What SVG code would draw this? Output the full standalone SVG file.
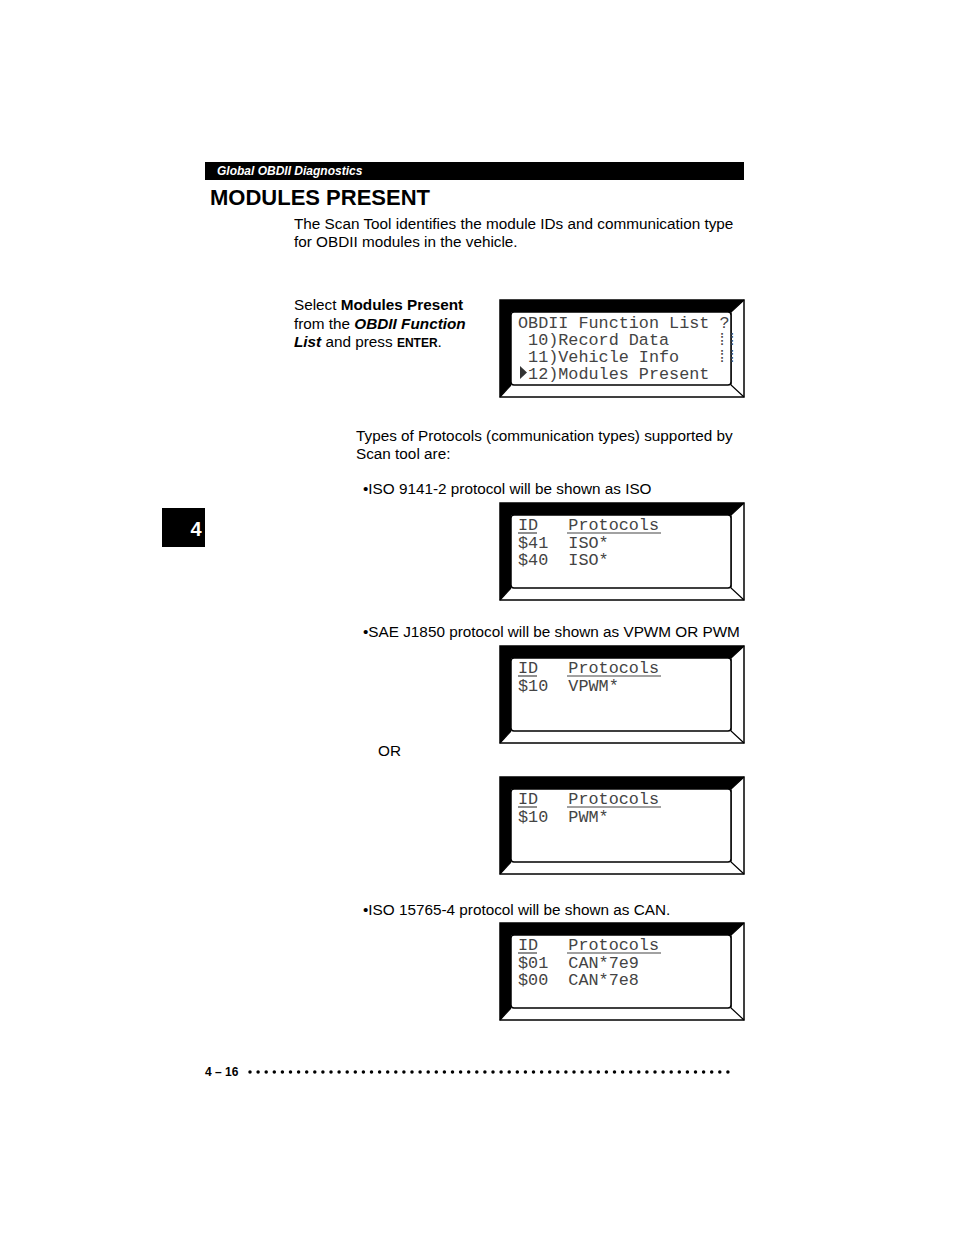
<svg xmlns="http://www.w3.org/2000/svg" xmlns:xlink="http://www.w3.org/1999/xlink" width="954" height="1235" viewBox="0 0 954 1235">
<style>
.t{font-family:"Liberation Sans",Arial,sans-serif;font-size:15.3px;fill:#000}
.b{font-weight:bold}
.lcd{font-family:"Liberation Mono","DejaVu Sans Mono",monospace;font-size:16.8px;fill:#444;white-space:pre}
.u{stroke:#444;stroke-width:1.2}
</style>
<defs>
<g id="frame">
<rect x="0" y="0" width="244" height="97" fill="#fff" stroke="#000" stroke-width="1.5"/>
<polygon points="0,0 244,0 231,12 11,12 11,85 0,97" fill="#000"/>
<polyline points="244,0 231,12 231,85 244,97" fill="none" stroke="#000" stroke-width="1.2"/>
<line x1="11" y1="85" x2="0" y2="97" stroke="#000" stroke-width="1.2"/>
<rect x="11" y="12" width="220" height="73" rx="3" fill="#fff" stroke="#000" stroke-width="1.5"/>
</g>
</defs>
<rect width="954" height="1235" fill="#fff"/>
<rect x="205" y="162" width="539" height="18" fill="#000"/>
<text x="217" y="174.5" style="font-family:'Liberation Sans',Arial,sans-serif;font-size:12px;font-weight:bold;font-style:italic;fill:#fff">Global OBDII Diagnostics</text>
<text x="210" y="205" style="font-family:'Liberation Sans',Arial,sans-serif;font-size:22px;font-weight:bold">MODULES PRESENT</text>
<text class="t" x="294" y="229">The Scan Tool identifies the module IDs and communication type</text>
<text class="t" x="294" y="247">for OBDII modules in the vehicle.</text>
<text class="t" x="294" y="310">Select <tspan class="b">Modules Present</tspan></text>
<text class="t" x="294" y="329">from the <tspan class="b" font-style="italic">OBDII Function</tspan></text>
<text class="t" x="294" y="347"><tspan class="b" font-style="italic">List</tspan> and press <tspan class="b" font-size="12">ENTER</tspan>.</text>

<g id="screen1">
<use xlink:href="#frame" x="500" y="300"/>
<text class="lcd" x="518" y="328">OBDII Function List ?</text>
<text class="lcd" x="518" y="345"> 10)Record Data     </text>
<text class="lcd" x="518" y="362"> 11)Vehicle Info    </text>
<text class="lcd" x="518" y="379"> 12)Modules Present</text>
<polygon points="520,366 520,379 527,372.5" fill="#333"/>
<text class="lcd" x="717" y="345" font-size="12">⁞⁞</text>
<text class="lcd" x="717" y="362" font-size="12">⁞⁞</text>
</g>

<text class="t" x="356" y="441">Types of Protocols (communication types) supported by</text>
<text class="t" x="356" y="459">Scan tool are:</text>
<text class="t" x="363" y="494">•ISO 9141-2 protocol will be shown as ISO</text>

<rect x="162" y="508" width="43" height="39" fill="#000"/>
<text x="196" y="536" text-anchor="middle" style="font-family:'Liberation Sans',Arial,sans-serif;font-size:20px;font-weight:bold;fill:#fff">4</text>

<g id="screen2">
<use xlink:href="#frame" x="500" y="503"/>
<text class="lcd" x="518" y="530">ID   Protocols</text>
<line class="u" x1="518" y1="533" x2="537" y2="533"/><line class="u" x1="567" y1="533" x2="661" y2="533"/>
<text class="lcd" x="518" y="548">$41  ISO*</text>
<text class="lcd" x="518" y="565">$40  ISO*</text>
</g>

<text class="t" x="363" y="637">•SAE J1850 protocol will be shown as VPWM OR PWM</text>
<g id="screen3">
<use xlink:href="#frame" x="500" y="646"/>
<text class="lcd" x="518" y="673">ID   Protocols</text>
<line class="u" x1="518" y1="676" x2="537" y2="676"/><line class="u" x1="567" y1="676" x2="661" y2="676"/>
<text class="lcd" x="518" y="691">$10  VPWM*</text>
</g>
<text class="t" x="378" y="756">OR</text>
<g id="screen4">
<use xlink:href="#frame" x="500" y="777"/>
<text class="lcd" x="518" y="804">ID   Protocols</text>
<line class="u" x1="518" y1="807" x2="537" y2="807"/><line class="u" x1="567" y1="807" x2="661" y2="807"/>
<text class="lcd" x="518" y="822">$10  PWM*</text>
</g>

<text class="t" x="363" y="915">•ISO 15765-4 protocol will be shown as CAN.</text>
<g id="screen5">
<use xlink:href="#frame" x="500" y="923"/>
<text class="lcd" x="518" y="950">ID   Protocols</text>
<line class="u" x1="518" y1="953" x2="537" y2="953"/><line class="u" x1="567" y1="953" x2="661" y2="953"/>
<text class="lcd" x="518" y="968">$01  CAN*7e9</text>
<text class="lcd" x="518" y="985">$00  CAN*7e8</text>
</g>

<text x="205" y="1076" style="font-family:'Liberation Sans',Arial,sans-serif;font-size:12px;font-weight:bold">4 – 16</text>
<line x1="250" y1="1072" x2="736" y2="1072" stroke="#000" stroke-width="3.5" stroke-linecap="round" stroke-dasharray="0 8.1"/>
</svg>
